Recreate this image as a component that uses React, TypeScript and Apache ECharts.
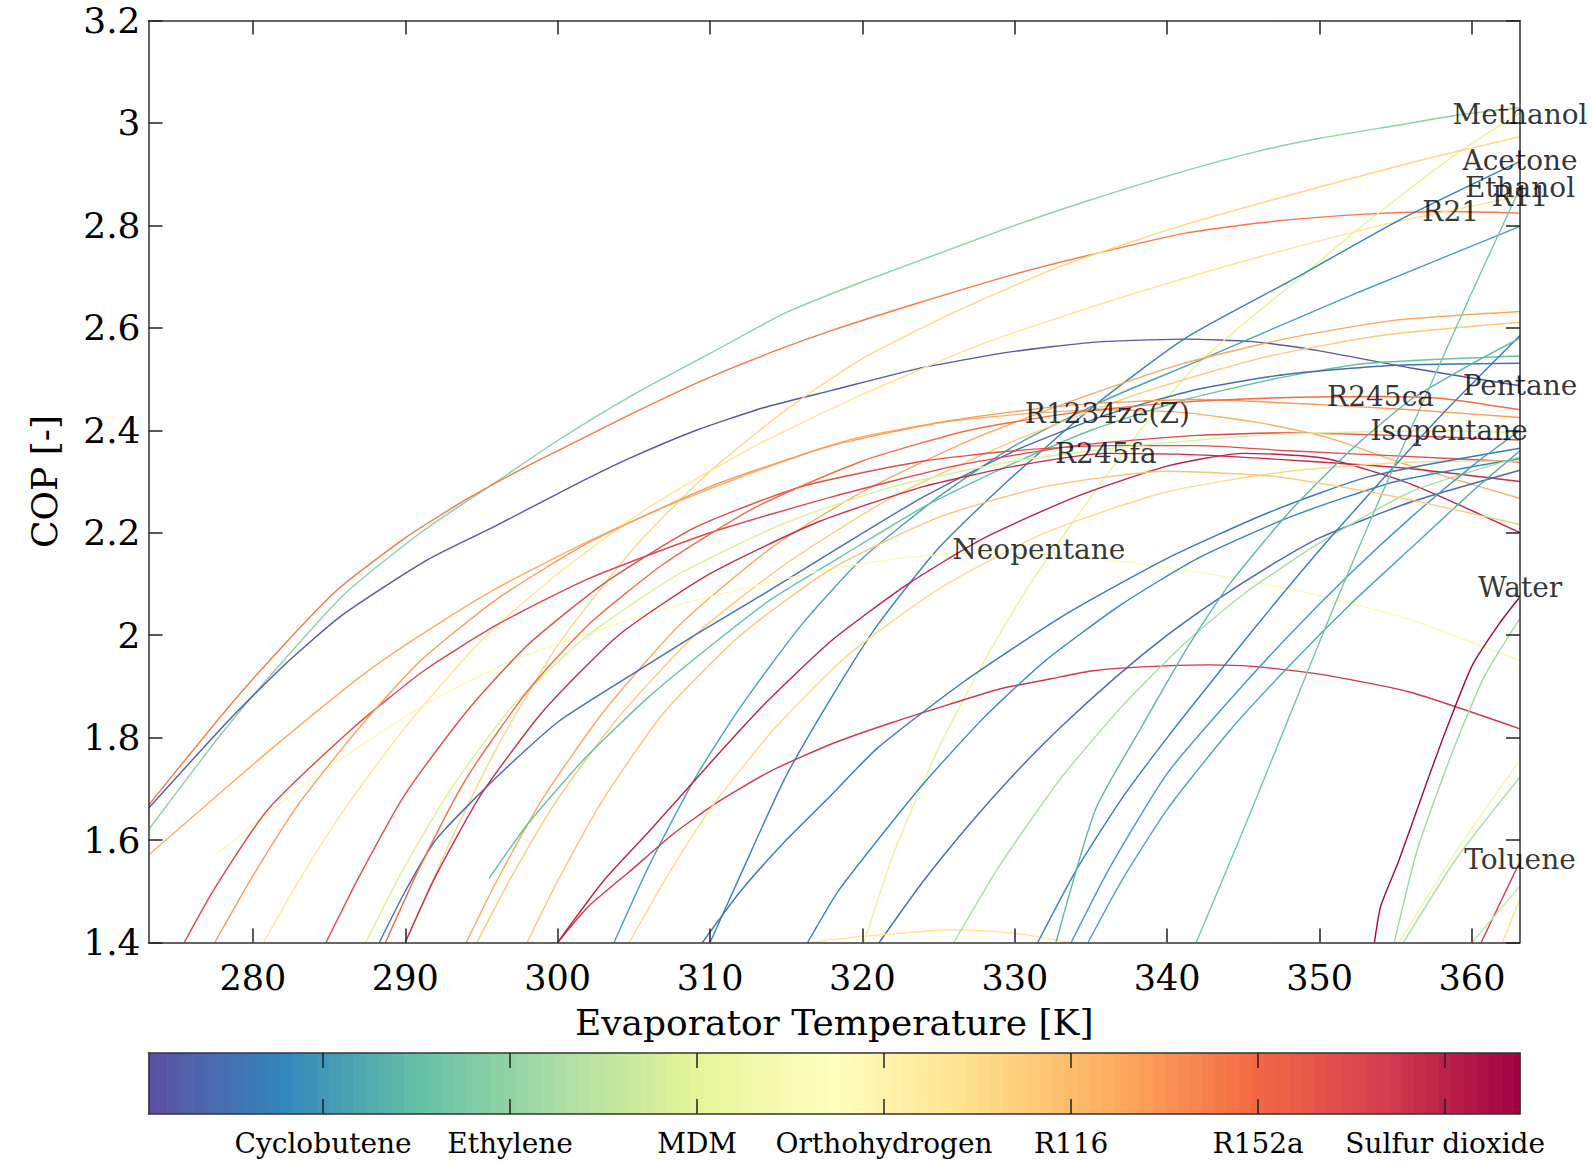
import React, { useEffect, useRef } from "react";
import * as echarts from "echarts";

// ---------- data ----------
const xTicks = [280, 290, 300, 310, 320, 330, 340, 350, 360];
const colorbarTickIdx = [14, 29, 44, 59, 74, 89, 104];
const colorbarTickLabels = ["Cyclobutene", "Ethylene", "MDM", "Orthohydrogen", "R116", "R152a", "Sulfur dioxide"];
const fluidCount = 111;

const c01 = [[273.15,1.62],[278,1.81],[282,1.95],[286,2.08],[291,2.2],[296,2.3],[300,2.38],[305,2.47],[310,2.55],[315,2.63],[320,2.69],[325,2.745],[330,2.8],[335,2.85],[341,2.905],[346,2.945],[350,2.97],[355,2.995],[359,3.015],[363.15,3.03]];
const c02 = [[273.15,1.668],[278.3,1.856],[282,1.98],[285.6,2.09],[290,2.19],[294,2.265],[298,2.33],[300,2.36],[304.7,2.43],[309.7,2.5],[314,2.552],[318,2.595],[323.6,2.648],[330,2.705],[335.3,2.745],[341.2,2.785],[347,2.808],[353,2.822],[358.6,2.827],[363.15,2.824]];
const c03 = [[273.15,1.662],[278.3,1.83],[282,1.94],[285.9,2.04],[291.5,2.148],[295.9,2.213],[300.9,2.29],[304.7,2.345],[309.1,2.4],[313.5,2.444],[318,2.478],[323.6,2.52],[329.5,2.552],[335.3,2.572],[341.2,2.578],[345.6,2.573],[350,2.555],[355.9,2.522],[363.15,2.487]];
const c04 = [[273.15,1.571],[277,1.67],[281.3,1.78],[287.1,1.92],[291,2.0],[295.9,2.09],[301.8,2.18],[307,2.25],[313,2.32],[319,2.38],[325,2.415],[331,2.433],[336,2.44],[341,2.435],[346,2.415],[350.4,2.387],[356,2.33],[363.15,2.267]];
const c05 = [[320.1,1.4],[322,1.57],[325,1.78],[328,1.95],[331,2.1],[335,2.27],[338.5,2.41],[342,2.53],[345.5,2.62],[348.6,2.695],[352,2.78],[355.2,2.855],[359,2.94],[363.15,3.02]];
const c06 = [[290,1.4],[293,1.6],[296,1.78],[300,1.98],[305,2.17],[310,2.32],[315,2.44],[320,2.54],[326,2.63],[333,2.72],[341,2.8],[350,2.875],[357,2.93],[363.15,2.973]];
const c07 = [[280.7,1.4],[283,1.52],[286,1.66],[290,1.82],[295,1.99],[300,2.12],[306,2.25],[313,2.37],[320,2.47],[328,2.57],[336,2.65],[345,2.73],[354,2.8],[363.15,2.857]];
const c08 = [[310,1.4],[312,1.532],[314.9,1.72],[318,1.88],[321,2.02],[325,2.17],[329.5,2.3],[335.3,2.45],[341.2,2.58],[348.6,2.7],[355.2,2.81],[363.15,2.925]];
const c09 = [[303.7,1.4],[306,1.55],[309,1.72],[312,1.86],[316,2.02],[320,2.15],[325,2.27],[330,2.37],[336,2.46],[342,2.535],[352.6,2.67],[363.15,2.798]];
const c10 = [[294,1.4],[296,1.52],[299,1.68],[303,1.85],[308,2.02],[314,2.17],[320,2.28],[327,2.38],[334,2.46],[341,2.53],[348,2.58],[355,2.615],[363.15,2.632]];
const c11 = [[294.7,1.4],[297,1.53],[300,1.68],[304,1.84],[309,2.0],[315,2.14],[322,2.27],[330,2.38],[338,2.47],[346,2.54],[354,2.585],[363.15,2.611]];
const c12 = [[295.5,1.525],[298,1.63],[301.8,1.76],[306,1.88],[310.5,1.99],[314,2.07],[318.4,2.15],[324,2.25],[329.5,2.33],[335,2.4],[341.2,2.46],[347,2.5],[352.9,2.53],[363.15,2.545]];
const c13 = [[288.3,1.4],[290,1.5],[292,1.6],[295.9,1.72],[300,1.83],[304.7,1.92],[309,2.0],[313.5,2.08],[318.4,2.17],[324,2.27],[330,2.36],[336,2.43],[342,2.48],[348,2.51],[355,2.527],[363.15,2.531]];
const c14 = [[277.5,1.57],[284.2,1.726],[291.2,1.863],[297,1.95],[302.9,2.012],[308,2.06],[313.5,2.1],[318,2.13],[323,2.152],[327,2.16],[331.5,2.158],[335.3,2.15],[341,2.128],[347.1,2.096],[351,2.07],[355.9,2.031],[363.15,1.95]];
const c15 = [[300,1.4],[302,1.47],[304.7,1.538],[307.5,1.61],[310.5,1.674],[314,1.735],[318,1.788],[322,1.83],[325.7,1.865],[329,1.895],[332.4,1.915],[335,1.93],[338.3,1.938],[342.7,1.942],[345.6,1.939],[350,1.924],[355.9,1.889],[363.15,1.817]];
const c16 = [[300,1.4],[303,1.52],[306.1,1.62],[310,1.75],[313.5,1.863],[318,1.99],[323,2.1],[328,2.19],[334,2.27],[340,2.33],[345,2.355],[350.4,2.345],[356,2.295],[363.15,2.2]];
const c17 = [[275.5,1.4],[277.5,1.506],[281,1.66],[286.5,1.817],[291.2,1.93],[296,2.02],[302,2.11],[310,2.2],[318,2.27],[326,2.33],[334,2.37],[342,2.39],[348,2.395],[355,2.39],[363.15,2.381]];
const c18 = [[277.5,1.4],[280,1.53],[283,1.67],[287,1.82],[291,1.95],[296,2.07],[302,2.18],[310,2.29],[318,2.37],[326,2.42],[334,2.45],[342,2.46],[350,2.45],[356,2.44],[363.15,2.425]];
const c19 = [[284.8,1.4],[287,1.53],[290,1.69],[294,1.85],[298,1.98],[303,2.1],[309,2.21],[316,2.29],[324,2.34],[330,2.36],[336,2.37],[342,2.37],[348,2.36],[355,2.35],[363.15,2.338]];
const c20 = [[287.4,1.4],[290,1.55],[293,1.7],[297,1.86],[302,2.0],[308,2.12],[315,2.22],[322,2.29],[330,2.34],[338,2.37],[346,2.39],[353,2.397],[358.5,2.399],[363.15,2.395]];
const c21 = [[288.7,1.4],[291,1.55],[294,1.72],[298,1.89],[302,2.02],[307,2.14],[313,2.25],[320,2.34],[327,2.4],[334,2.435],[341,2.455],[348,2.464],[354,2.466],[358,2.462],[363.15,2.44]];
const c22 = [[290,1.4],[292,1.53],[295,1.69],[299,1.85],[304,2.0],[310,2.12],[317,2.22],[324,2.29],[330,2.33],[336,2.355],[342,2.352],[349,2.34],[356,2.325],[363.15,2.3]];
const c23 = [[304.7,1.4],[307,1.52],[310,1.66],[314,1.81],[319,1.96],[325,2.09],[332,2.2],[340,2.28],[348,2.32],[356,2.338],[363.15,2.34]];
const c24 = [[309.5,1.4],[312,1.5],[315,1.6],[317.7,1.68],[321,1.78],[326.7,1.91],[333.3,2.04],[340,2.15],[346.7,2.24],[353.3,2.31],[363.15,2.365]];
const c25 = [[316.4,1.4],[318.4,1.5],[321,1.6],[324,1.71],[328,1.84],[332,1.95],[337,2.06],[342,2.15],[348,2.23],[355,2.3],[363.15,2.345]];
const c26 = [[321.1,1.4],[324,1.52],[327,1.63],[330,1.73],[333,1.82],[336.7,1.92],[340,2.0],[343.3,2.07],[347,2.14],[350,2.19],[356,2.26],[363.15,2.322]];
const c27 = [[316.5,1.4],[320,1.412],[326,1.425],[330,1.418],[333.6,1.4]];
const c28 = [[326,1.4],[329,1.55],[333,1.72],[337,1.86],[341,1.98],[345,2.08],[350,2.18],[356,2.28],[363.15,2.348]];
const c29 = [[331.5,1.4],[334,1.54],[337,1.68],[340,1.8],[344,1.95],[347,2.06],[350.4,2.18],[354,2.3],[358,2.43],[363.15,2.585]];
const c30 = [[332.7,1.4],[335.3,1.66],[338.3,1.82],[341.2,1.97],[344.1,2.1],[348,2.24],[352,2.36],[356,2.46],[360,2.53],[363.15,2.58]];
const c31 = [[333.7,1.4],[336.3,1.55],[340,1.73],[344,1.87],[348,2.0],[352,2.12],[356,2.23],[360,2.33],[363.15,2.4]];
const c32 = [[334.8,1.4],[337,1.52],[340,1.66],[344,1.81],[348,1.94],[352,2.06],[356,2.17],[360,2.28],[363.15,2.36]];
const c33 = [[341.9,1.4],[345,1.62],[348,1.84],[351,2.06],[354,2.27],[357,2.47],[360,2.67],[363.15,2.873]];
const c34 = [[353.6,1.4],[354,1.47],[355.2,1.56],[357,1.71],[358.3,1.815],[360,1.94],[361.8,2.023],[363.15,2.075]];
const c35 = [[354.9,1.4],[356.4,1.58],[358.6,1.763],[360.8,1.919],[363.15,2.033]];
const c36 = [[355.2,1.4],[359,1.58],[363.15,1.756]];
const c37 = [[355.5,1.4],[359,1.565],[363.15,1.723]];
const c38 = [[360.6,1.4],[363.15,1.558]];
const c39 = [[360,1.4],[363.15,1.51]];
const c40 = [[362,1.4],[363.15,1.485]];
const c41 = [[298,1.4],[300,1.52],[303,1.68],[307,1.85],[312,2.0],[318,2.13],[325,2.23],[332,2.29],[340,2.32],[347,2.31],[355,2.27],[363.15,2.216]];

const curves = [c01,c02,c03,c04,c05,c06,c07,c08,c09,c10,c11,c12,c13,c14,c15,c16,c17,c18,c19,c20,c21,c22,c23,c24,c25,c26,c27,c28,c29,c30,c31,c32,c33,c34,c35,c36,c37,c38,c39,c40,c41];
// fluid index (0..110) of each curve, used for its colour
const curveFluidIdx = [28,86,2,77,44,68,64,10,16,78,71,22,6,52,100,104,97,80,95,42,88,102,67,8,11,5,64,33,9,20,15,17,24,109,31,48,34,100,38,66,72];

const annotations = [
  ["Methanol", 363.15, 3.016],
  ["Acetone", 363.15, 2.926],
  ["Ethanol", 363.15, 2.873],
  ["R11", 363.15, 2.857],
  ["R21", 358.6, 2.827],
  ["Pentane", 363.15, 2.488],
  ["R245ca", 354.0, 2.466],
  ["Isopentane", 358.5, 2.399],
  ["R1234ze(Z)", 336.07, 2.433],
  ["R245fa", 335.97, 2.355],
  ["Neopentane", 331.57, 2.167],
  ["Water", 363.15, 2.094],
  ["Toluene", 363.15, 1.562],
];

// ---------- colour map (Spectral reversed) ----------
const spectralStops = ["#5e4fa2","#3288bd","#66c2a5","#abdda4","#e6f598","#ffffbf","#fee08b","#fdae61","#f46d43","#d53e4f","#9e0142"];
function hexToRgb(h: string) {
  return [parseInt(h.slice(1,3),16), parseInt(h.slice(3,5),16), parseInt(h.slice(5,7),16)];
}
function spectral(t: number) {
  const tt = Math.max(0, Math.min(1, t)) * (spectralStops.length - 1);
  const i = Math.min(Math.floor(tt), spectralStops.length - 2);
  const f = tt - i;
  const a = hexToRgb(spectralStops[i]);
  const b = hexToRgb(spectralStops[i+1]);
  const c = a.map((v, k) => Math.round(v + (b[k] - v) * f));
  return `rgb(${c[0]},${c[1]},${c[2]})`;
}

const FONT = "DejaVu Serif";

export default function App() {
  const ref = useRef<HTMLDivElement>(null);
  useEffect(() => {
    if (!ref.current) return;
    const chart = echarts.init(ref.current, null, { renderer: "svg" });
    const axisLine = { show: true, onZero: false, lineStyle: { color: "#333", width: 1.5 } };
    const tickStyle = { color: "#222", width: 1.5 };
    const fluidIdx = Array.from({ length: fluidCount }, (_, i) => [i, 0.5]);

    const lineSeries = curves.map((d, k) => ({
      type: "line",
      data: d,
      xAxisIndex: 0,
      yAxisIndex: 0,
      showSymbol: false,
      symbol: "none",
      smooth: 0.2,
      lineStyle: { width: 1.4, color: spectral(curveFluidIdx[k] / (fluidCount - 1)) },
      silent: true,
      z: 2,
    }));

    const option: any = {
      animation: false,
      textStyle: { fontFamily: FONT },
      grid: [
        { left: 148.5, right: 72, top: 20.5, bottom: 219.5 },
        { left: 148.5, right: 72, top: 1053, height: 61 },
      ],
      xAxis: [
        {
          type: "value", gridIndex: 0, min: 273.15, max: 363.15, position: "bottom", z: 10,
          axisLine,
          splitLine: { show: false },
          axisTick: { show: true, inside: true, length: 14, customValues: xTicks, lineStyle: tickStyle },
          axisLabel: { show: true, customValues: xTicks, fontSize: 35, color: "#000", margin: 18, fontFamily: FONT },
          name: "Evaporator Temperature [K]",
          nameLocation: "middle",
          nameGap: 62,
          nameTextStyle: { fontSize: 36, color: "#000", fontFamily: FONT },
        },
        {
          type: "value", gridIndex: 0, min: 273.15, max: 363.15, position: "top", z: 10,
          axisLine,
          splitLine: { show: false },
          axisTick: { show: true, inside: true, length: 14, customValues: xTicks, lineStyle: tickStyle },
          axisLabel: { show: false },
        },
        {
          type: "value", gridIndex: 1, min: 0, max: fluidCount - 1, position: "bottom", z: 10,
          axisLine,
          splitLine: { show: false },
          axisTick: { show: true, inside: true, length: 15, customValues: colorbarTickIdx, lineStyle: tickStyle },
          axisLabel: {
            show: true, customValues: colorbarTickIdx, fontSize: 28, color: "#000", margin: 15, fontFamily: FONT,
            formatter: (v: number) => {
              const i = colorbarTickIdx.indexOf(Math.round(v));
              return i >= 0 ? colorbarTickLabels[i] : "";
            },
          },
        },
        {
          type: "value", gridIndex: 1, min: 0, max: fluidCount - 1, position: "top", z: 10,
          axisLine,
          splitLine: { show: false },
          axisTick: { show: true, inside: true, length: 15, customValues: colorbarTickIdx, lineStyle: tickStyle },
          axisLabel: { show: false },
        },
      ],
      yAxis: [
        {
          type: "value", gridIndex: 0, min: 1.4, max: 3.2, interval: 0.2, position: "left", z: 10,
          axisLine,
          splitLine: { show: false },
          axisTick: { show: true, inside: true, length: 14, lineStyle: tickStyle },
          axisLabel: {
            show: true, fontSize: 36, color: "#000", margin: 8, fontFamily: FONT,
            formatter: (v: number) => String(parseFloat(v.toFixed(1))),
          },
          name: "COP [-]",
          nameLocation: "middle",
          nameGap: 86,
          nameTextStyle: { fontSize: 36, color: "#000", fontFamily: FONT },
        },
        {
          type: "value", gridIndex: 0, min: 1.4, max: 3.2, interval: 0.2, position: "right", z: 10,
          axisLine,
          splitLine: { show: false },
          axisTick: { show: true, inside: true, length: 14, lineStyle: tickStyle },
          axisLabel: { show: false },
        },
        {
          type: "value", gridIndex: 1, min: 0, max: 1, position: "left", z: 10,
          axisLine, splitLine: { show: false }, axisTick: { show: false }, axisLabel: { show: false },
        },
        {
          type: "value", gridIndex: 1, min: 0, max: 1, position: "right", z: 10,
          axisLine, splitLine: { show: false }, axisTick: { show: false }, axisLabel: { show: false },
        },
      ],
      series: [
        ...lineSeries,
        {
          type: "scatter",
          xAxisIndex: 0,
          yAxisIndex: 0,
          symbolSize: 0,
          clip: false,
          silent: true,
          z: 20,
          data: annotations.map(([n, x, y]) => ({ name: n, value: [x, y] })),
          label: {
            show: true,
            position: "inside",
            align: "center",
            verticalAlign: "middle",
            formatter: (p: any) => p.name,
            fontSize: 28,
            color: "#000",
            fontFamily: FONT,
          },
        },
        {
          type: "custom",
          xAxisIndex: 2,
          yAxisIndex: 2,
          silent: true,
          clip: true,
          z: 1,
          data: fluidIdx,
          renderItem: (params: any, api: any) => {
            const i = api.value(0);
            const lo = Math.max(i - 0.5, 0);
            const hi = Math.min(i + 0.5, fluidCount - 1);
            const p0 = api.coord([lo, 1]);
            const p1 = api.coord([hi, 0]);
            return {
              type: "rect",
              shape: { x: p0[0], y: p0[1], width: p1[0] - p0[0] + 0.6, height: p1[1] - p0[1] },
              style: { fill: spectral(i / (fluidCount - 1)) },
            };
          },
        },
      ],
    };
    chart.setOption(option);
    return () => chart.dispose();
  }, []);
  return (
    <div
      ref={ref}
      style={{ position: "fixed", left: 0, top: 0, width: 1592, height: 1162, background: "#fff" }}
    />
  );
}
